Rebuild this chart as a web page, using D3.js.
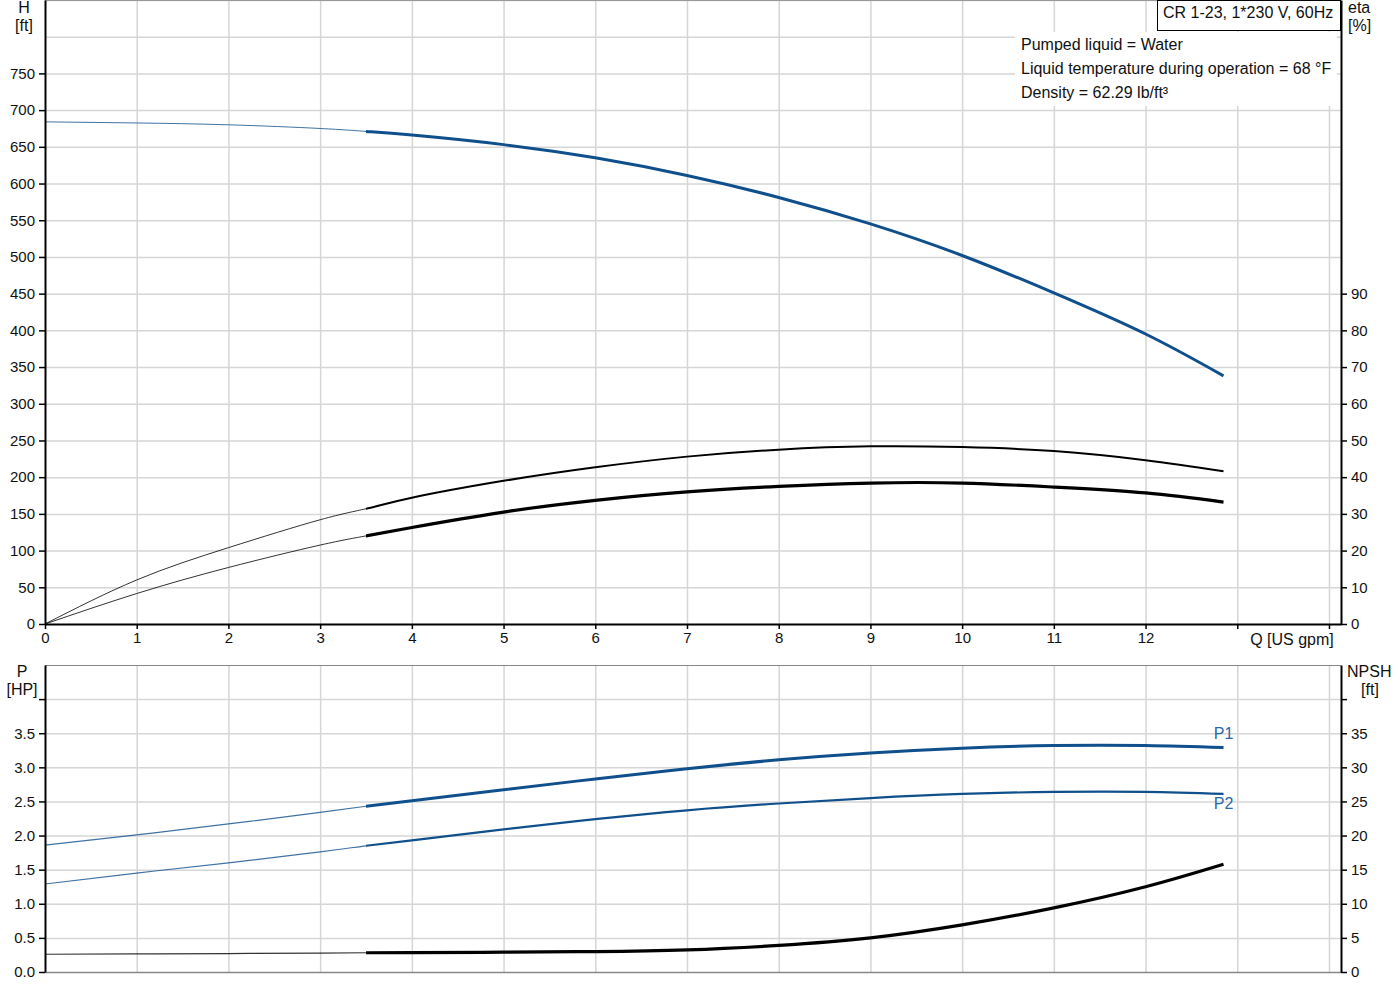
<!DOCTYPE html>
<html>
<head>
<meta charset="utf-8">
<script src="https://cdn.jsdelivr.net/npm/d3@7"></script>
<style>
  body { margin: 0; background: #fff; }
  svg { display: block; font-family: "Liberation Sans", Arial, sans-serif; }
  .tick text { font-size: 15px; fill: #111; }
</style>
</head>
<body>
<svg id="chart" width="1400" height="1000"></svg>
<script>
// flow points (US gpm) shared by every curve
const flow = [0, 1, 2, 3, 3.5, 4, 5, 6, 7, 8, 9, 10, 11, 12, 12.85];
const dutyStart = 3.5; // curves get thick from here on

const head   = [684, 682.5, 680, 675, 671, 666, 653, 635, 611, 581, 545, 502, 451, 395, 338];
const etaP   = [0, 12, 20.8, 28.4, 31.4, 34.4, 39, 42.7, 45.6, 47.5, 48.4, 48.2, 47.1, 44.6, 41.6];
const etaTot = [0, 8.3, 15.4, 21.5, 24.0, 26.3, 30.5, 33.7, 36.0, 37.5, 38.4, 38.4, 37.3, 35.7, 33.2];
const powerP1 = [1.86, 2.01, 2.17, 2.34, 2.43, 2.51, 2.67, 2.83, 2.98, 3.11, 3.21, 3.28, 3.32, 3.32, 3.29];
const powerP2 = [1.29, 1.45, 1.60, 1.76, 1.85, 1.93, 2.09, 2.24, 2.37, 2.47, 2.55, 2.61, 2.64, 2.64, 2.61];
const npsh   = [2.6, 2.65, 2.7, 2.78, 2.82, 2.84, 2.9, 3.0, 3.25, 3.9, 5.0, 6.9, 9.4, 12.5, 15.8];

const xTicks = [0, 1, 2, 3, 4, 5, 6, 7, 8, 9, 10, 11, 12];
const hTicks = [0, 50, 100, 150, 200, 250, 300, 350, 400, 450, 500, 550, 600, 650, 700, 750];
const etaTicks = [0, 10, 20, 30, 40, 50, 60, 70, 80, 90];
const pTicks = [0, 0.5, 1, 1.5, 2, 2.5, 3, 3.5, 4];
const npshTicks = [0, 5, 10, 15, 20, 25, 30, 35, 40];

const infoLines = ["Pumped liquid = Water", "Liquid temperature during operation = 68 °F", "Density = 62.29 lb/ft³"];
const title = "CR 1-23, 1*230 V, 60Hz";

const blue = "#0f4f8c";
const grid = "#d6d6d6";
const fs = 16;

const svg = d3.select("#chart");

const left = 45, right = 1341;
const x = d3.scaleLinear().domain([0, 14.131]).range([left, right]);

// top panel scales
const yH = d3.scaleLinear().domain([0, 850]).range([624, 0]);
const yEta = d3.scaleLinear().domain([0, 170]).range([624, 0]);
// bottom panel scales
const yP = d3.scaleLinear().domain([0, 4.5]).range([972, 665]);
const yN = d3.scaleLinear().domain([0, 45]).range([972, 665]);

// clip for the thick (operating range) part of each curve
svg.append("clipPath").attr("id", "duty")
  .append("rect").attr("x", x(dutyStart)).attr("y", 0).attr("width", right - x(dutyStart)).attr("height", 1000);
svg.append("clipPath").attr("id", "pre")
  .append("rect").attr("x", 0).attr("y", 0).attr("width", x(dutyStart)).attr("height", 1000);

// grid
const gridX = d3.range(1, 15);
function vgrid(y0, y1) {
  svg.append("g").selectAll("line").data(gridX).join("line")
    .attr("x1", d => x(d) + 0.5).attr("x2", d => x(d) + 0.5)
    .attr("y1", y0).attr("y2", y1)
    .attr("stroke", grid).attr("stroke-width", 1.5);
}
vgrid(0, 624);
vgrid(665, 972);
svg.append("g").selectAll("line").data(d3.range(50, 851, 50)).join("line")
  .attr("x1", left).attr("x2", right)
  .attr("y1", d => yH(d) + 0.5).attr("y2", d => yH(d) + 0.5)
  .attr("stroke", grid).attr("stroke-width", 1.5);
svg.append("g").selectAll("line").data(pTicks.slice(1)).join("line")
  .attr("x1", left).attr("x2", right)
  .attr("y1", d => yP(d) + 0.5).attr("y2", d => yP(d) + 0.5)
  .attr("stroke", grid).attr("stroke-width", 1.5);

// panel frames
svg.append("line").attr("x1", left).attr("x2", right).attr("y1", 0.5).attr("y2", 0.5).attr("stroke", "#999");
svg.append("line").attr("x1", left).attr("x2", right).attr("y1", 665.5).attr("y2", 665.5).attr("stroke", "#888");
svg.append("line").attr("x1", left).attr("x2", right).attr("y1", 972.5).attr("y2", 972.5).attr("stroke", "#888").attr("stroke-width", 1.5);

// info block with white background
svg.append("rect").attr("x", 1015).attr("y", 32).attr("width", 322).attr("height", 74).attr("fill", "#fff");
svg.append("g").selectAll("text").data(infoLines).join("text")
  .attr("x", 1021).attr("y", (d, i) => 50 + i * 24)
  .attr("font-size", fs).attr("fill", "#111").text(d => d);

// curves: thin before the duty range, thick inside it
function curve(vals, yScale, color, thin, thick) {
  const pts = flow.map((q, i) => [q, vals[i]]);
  const line = d3.line().x(d => x(d[0])).y(d => yScale(d[1])).curve(d3.curveNatural);
  svg.append("path").attr("d", line(pts)).attr("clip-path", "url(#pre)")
    .attr("fill", "none").attr("stroke", color).attr("stroke-width", thin).attr("opacity", 0.8);
  svg.append("path").attr("d", line(pts)).attr("clip-path", "url(#duty)")
    .attr("fill", "none").attr("stroke", color).attr("stroke-width", thick);
}
curve(head, yH, blue, 1, 3);
curve(etaP, yEta, "#000", 1, 2);
curve(etaTot, yEta, "#000", 1, 3.2);
curve(powerP1, yP, blue, 1.2, 3);
curve(powerP2, yP, blue, 1.2, 2.2);
curve(npsh, yN, "#000", 1.2, 3.2);

// P1 / P2 labels
const last = flow.length - 1;
svg.append("text").attr("x", x(flow[last])).attr("y", yP(powerP1[last]) - 9)
  .attr("text-anchor", "middle").attr("font-size", fs).attr("fill", "#2a68a8").text("P1");
svg.append("text").attr("x", x(flow[last])).attr("y", yP(powerP2[last]) + 15)
  .attr("text-anchor", "middle").attr("font-size", fs).attr("fill", "#2a68a8").text("P2");

// axes
function styleAxis(g) {
  g.select(".domain").attr("stroke", "#000").attr("stroke-width", 2);
  g.selectAll(".tick line").attr("stroke", "#000").attr("stroke-width", 1.5);
}
svg.append("g").attr("transform", `translate(${left},0)`)
  .call(d3.axisLeft(yH).tickValues(hTicks).tickSize(6).tickSizeOuter(0).tickPadding(4))
  .call(styleAxis);
svg.append("g").attr("transform", `translate(${right},0)`)
  .call(d3.axisRight(yEta).tickValues(etaTicks).tickSize(6).tickSizeOuter(0).tickPadding(4))
  .call(styleAxis);
svg.append("g").attr("transform", "translate(0,624)")
  .call(d3.axisBottom(x).tickValues(d3.range(0, 15)).tickSize(5).tickSizeOuter(0).tickPadding(3)
    .tickFormat(d => xTicks.includes(d) ? d : ""))
  .call(styleAxis);
svg.append("g").attr("transform", `translate(${left},0)`)
  .call(d3.axisLeft(yP).tickValues(pTicks).tickSize(6).tickSizeOuter(0).tickPadding(4)
    .tickFormat(d => d === 4 ? "" : d3.format(".1f")(d)))
  .call(styleAxis);
svg.append("g").attr("transform", `translate(${right},0)`)
  .call(d3.axisRight(yN).tickValues(npshTicks).tickSize(6).tickSizeOuter(0).tickPadding(4)
    .tickFormat(d => d === 40 ? "" : d))
  .call(styleAxis);

// title box
svg.append("rect").attr("x", 1157.5).attr("y", 0.5).attr("width", 183).attr("height", 30)
  .attr("fill", "#fff").attr("stroke", "#000");
svg.append("text").attr("x", 1163).attr("y", 18).attr("font-size", fs).attr("fill", "#111").text(title);

// axis captions
const cap = [
  ["H", 24, 13, "middle"], ["[ft]", 24, 31, "middle"],
  ["eta", 1348, 13, "start"], ["[%]", 1348, 31, "start"],
  ["P", 22, 677, "middle"], ["[HP]", 22, 695, "middle"],
  ["NPSH", 1347, 677, "start"], ["[ft]", 1370, 695, "middle"],
  ["Q [US gpm]", 1292, 645, "middle"]
];
svg.append("g").selectAll("text").data(cap).join("text")
  .attr("x", d => d[1]).attr("y", d => d[2]).attr("text-anchor", d => d[3])
  .attr("font-size", fs).attr("fill", "#111").text(d => d[0]);
</script>
</body>
</html>
